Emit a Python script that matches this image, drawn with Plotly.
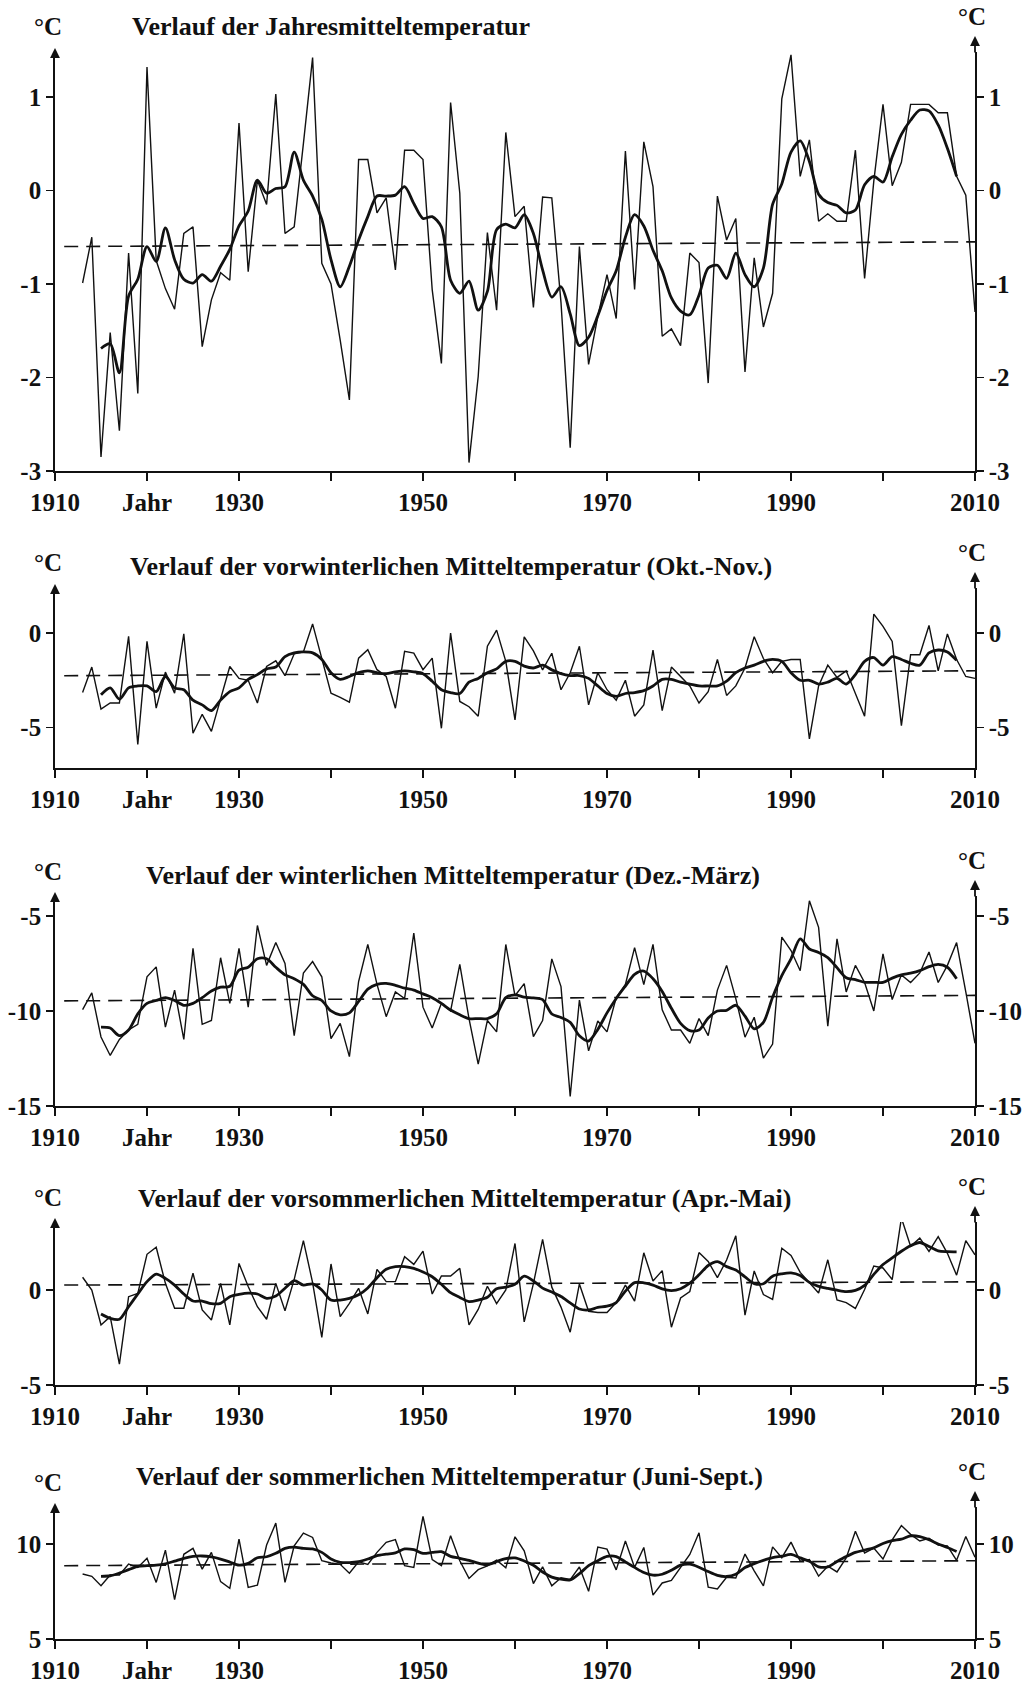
import plotly.graph_objects as go

# ---------------- data ----------------
YEARS = list(range(1913, 2011))          # annual values
SMOOTH_YEARS = list(range(1915, 2009))   # smoothed curve
TREND_YEARS = [1911, 2010]               # dashed linear trend

annual_raw = [
    -0.99, -0.50, -2.85, -1.52, -2.57, -0.67, -2.17, 1.32, -0.75, -1.05,
    -1.27, -0.46, -0.39, -1.67, -1.17, -0.88, -0.96, 0.72, -0.87, 0.11,
    -0.15, 1.03, -0.46, -0.39, 0.50, 1.42, -0.78, -1.00, -1.60, -2.24,
    0.33, 0.33, -0.24, -0.08, -0.85, 0.43, 0.43, 0.33, -1.06, -1.85,
    0.94, -0.03, -2.91, -1.99, -0.45, -1.28, 0.62, -0.28, -0.17, -1.25,
    -0.07, -0.08, -1.20, -2.75, -0.60, -1.86, -1.35, -0.90, -1.37, 0.42,
    -1.06, 0.52, 0.04, -1.56, -1.48, -1.66, -0.67, -0.77, -2.06, -0.06,
    -0.53, -0.30, -1.94, -0.72, -1.46, -1.10, 0.98, 1.45, 0.15, 0.54,
    -0.33, -0.25, -0.33, -0.33, 0.43, -0.94, 0.10, 0.92, 0.05, 0.30,
    0.92, 0.92, 0.92, 0.83, 0.83, 0.15, -0.05, -1.30]
annual_smooth = [
    -1.69, -1.64, -1.95, -1.13, -0.95, -0.60, -0.76, -0.40, -0.74, -0.95,
    -0.99, -0.90, -0.97, -0.81, -0.63, -0.38, -0.22, 0.11, -0.03, 0.02,
    0.04, 0.41, 0.11, -0.06, -0.31, -0.74, -1.03, -0.81, -0.53, -0.28,
    -0.06, -0.06, -0.05, 0.04, -0.14, -0.30, -0.28, -0.39, -0.96, -1.10,
    -0.97, -1.28, -1.08, -0.42, -0.36, -0.40, -0.26, -0.46, -0.85, -1.14,
    -1.03, -1.32, -1.66, -1.57, -1.34, -1.07, -0.86, -0.50, -0.26, -0.38,
    -0.64, -0.86, -1.15, -1.29, -1.33, -1.12, -0.83, -0.80, -0.94, -0.67,
    -0.90, -1.03, -0.83, -0.15, 0.07, 0.41, 0.53, 0.31, -0.04, -0.13,
    -0.16, -0.24, -0.21, 0.06, 0.15, 0.09, 0.36, 0.60, 0.75, 0.86,
    0.85, 0.70, 0.45, 0.15]
annual_trend = [-0.60, -0.55]

autumn_raw = [
    -3.15, -1.80, -4.03, -3.70, -3.70, -0.18, -5.90, -0.44, -3.97, -2.07,
    -3.18, -0.04, -5.30, -4.30, -5.20, -3.50, -1.77, -2.40, -2.50, -3.70,
    -1.77, -1.47, -2.26, -1.10, -1.00, 0.48, -1.41, -3.18, -3.40, -3.66,
    -1.33, -0.88, -1.94, -2.30, -3.98, -0.97, -1.06, -1.94, -1.33, -5.04,
    0.00, -3.62, -3.90, -4.40, -0.70, 0.15, -1.50, -4.60, -0.20, -0.95,
    -1.95, -1.07, -3.00, -2.10, -0.70, -3.80, -2.10, -3.00, -3.55, -2.50,
    -4.40, -3.80, -0.90, -4.10, -1.80, -2.30, -2.80, -3.70, -3.10, -1.40,
    -3.30, -2.80, -1.85, -0.20, -1.35, -2.10, -1.50, -1.40, -1.40, -5.60,
    -2.80, -1.70, -2.35, -2.00, -3.20, -4.40, 1.00, 0.35, -0.45, -4.90,
    -1.15, -1.15, 0.40, -2.00, -0.05, -1.40, -2.30, -2.40]
autumn_smooth = [
    -3.27, -2.90, -3.50, -2.90, -2.80, -2.80, -3.10, -2.30, -2.90, -3.00,
    -3.55, -3.80, -4.10, -3.55, -3.10, -2.90, -2.45, -2.20, -1.90, -1.80,
    -1.25, -1.05, -1.00, -1.05, -1.40, -2.10, -2.45, -2.30, -2.10, -2.00,
    -2.10, -2.15, -2.05, -2.00, -2.05, -2.15, -2.55, -3.00, -3.15, -3.20,
    -2.60, -2.40, -2.10, -1.90, -1.50, -1.50, -1.75, -1.85, -1.70, -1.95,
    -2.15, -2.25, -2.25, -2.40, -2.80, -3.20, -3.35, -3.20, -3.15, -3.05,
    -2.80, -2.45, -2.45, -2.60, -2.70, -2.80, -2.80, -2.80, -2.55, -2.10,
    -1.85, -1.70, -1.50, -1.40, -1.50, -2.10, -2.50, -2.50, -2.70, -2.60,
    -2.40, -2.70, -2.20, -1.50, -1.30, -1.70, -1.25, -1.40, -1.60, -1.70,
    -1.05, -0.90, -1.00, -1.45]
autumn_trend = [-2.26, -2.00]

winter_raw = [
    -9.93, -9.05, -11.37, -12.34, -11.50, -11.00, -10.70, -8.20, -7.68, -10.85,
    -8.90, -11.50, -6.70, -10.70, -10.50, -7.20, -9.60, -6.70, -9.80, -5.50,
    -7.60, -6.40, -7.50, -11.30, -8.00, -7.40, -8.20, -11.45, -10.65, -12.40,
    -8.45, -6.50, -8.60, -10.30, -9.00, -9.35, -5.90, -9.80, -10.90, -9.60,
    -10.00, -7.55, -10.40, -12.80, -10.50, -11.10, -6.50, -9.20, -8.56, -11.35,
    -10.50, -7.26, -8.72, -14.50, -9.43, -12.10, -10.53, -11.10, -9.30, -8.60,
    -6.67, -8.61, -6.50, -9.94, -11.00, -11.00, -11.70, -10.40, -11.30, -8.90,
    -7.60, -9.35, -11.38, -10.33, -12.48, -11.74, -6.11, -6.82, -7.88, -4.20,
    -5.60, -10.80, -6.20, -9.00, -7.60, -8.50, -10.00, -7.00, -9.40, -8.10,
    -8.50, -8.00, -6.90, -8.50, -7.60, -6.40, -9.00, -11.70]
winter_smooth = [
    -10.85, -10.90, -11.30, -11.00, -10.15, -9.60, -9.45, -9.30, -9.45, -9.70,
    -9.60, -9.30, -8.95, -8.75, -8.70, -7.85, -7.70, -7.25, -7.25, -7.70,
    -8.10, -8.30, -8.60, -9.20, -9.45, -10.00, -10.20, -10.10, -9.50, -8.85,
    -8.60, -8.55, -8.65, -8.80, -8.90, -9.10, -9.30, -9.60, -9.95, -10.20,
    -10.40, -10.40, -10.40, -10.15, -9.30, -9.15, -9.27, -9.31, -9.40, -10.16,
    -10.34, -10.60, -11.30, -11.58, -10.97, -10.10, -9.34, -8.69, -8.07, -7.90,
    -8.30, -8.97, -9.86, -10.65, -11.03, -11.00, -10.37, -10.00, -9.97, -9.70,
    -10.27, -10.94, -10.60, -9.28, -8.14, -7.26, -6.21, -6.74, -6.92, -7.19,
    -7.72, -8.25, -8.35, -8.49, -8.49, -8.50, -8.27, -8.10, -8.01, -7.88,
    -7.67, -7.55, -7.70, -8.30]
winter_trend = [-9.47, -9.18]

spring_raw = [
    0.67, 0.00, -1.84, -1.40, -3.90, -0.35, -0.18, 1.88, 2.25, 0.35,
    -0.96, -0.96, 0.88, -1.05, -1.58, 0.35, -1.84, 1.40, 0.18, -0.88,
    -1.54, 0.35, -1.09, 0.56, 2.60, 0.39, -2.49, 1.37, -1.40, -0.70,
    0.09, -1.26, 1.09, 0.44, 0.44, 1.75, 1.35, 2.05, -0.21, 0.74,
    0.74, 1.14, -1.84, -1.02, 0.20, -0.72, 0.00, 2.45, -1.68, 0.34,
    2.67, 0.15, -0.90, -2.22, 0.32, -1.12, -1.18, -1.18, -0.66, 0.26,
    -0.58, 1.96, 0.47, 1.02, -1.96, -0.42, -0.08, 1.97, 1.50, 0.65,
    1.58, 2.85, -1.32, 1.00, -0.24, -0.49, 2.20, 1.82, 0.93, 0.40,
    -0.16, 1.59, -0.52, -0.66, -0.97, 0.03, 1.26, 1.16, 0.55, 3.79,
    2.30, 2.73, 2.03, 2.81, 1.93, 0.78, 2.60, 1.85]
spring_smooth = [
    -1.26, -1.49, -1.54, -0.88, -0.21, 0.44, 0.84, 0.61, 0.26, -0.21,
    -0.58, -0.58, -0.72, -0.70, -0.35, -0.23, -0.16, -0.21, -0.44, -0.32,
    0.09, 0.49, 0.26, 0.32, 0.00, -0.53, -0.53, -0.44, -0.25, 0.11,
    0.65, 1.09, 1.23, 1.23, 1.14, 0.95, 0.70, 0.30, -0.14, -0.39,
    -0.61, -0.53, -0.38, 0.07, 0.15, 0.30, 0.73, 0.48, 0.10, -0.11,
    -0.34, -0.68, -1.00, -1.05, -0.92, -0.85, -0.66, -0.06, 0.39, 0.38,
    0.26, 0.06, -0.03, 0.07, 0.36, 0.80, 1.29, 1.49, 1.23, 1.05,
    0.69, 0.34, 0.33, 0.73, 0.85, 0.90, 0.76, 0.40, 0.19, 0.08,
    -0.01, -0.08, -0.02, 0.24, 0.82, 1.34, 1.69, 2.04, 2.33, 2.50,
    2.29, 2.06, 2.02, 2.01]
spring_trend = [0.26, 0.43]

summer_raw = [
    8.42, 8.30, 7.80, 8.37, 8.37, 8.95, 8.77, 9.25, 7.98, 9.68,
    7.07, 9.46, 9.77, 8.68, 9.56, 8.02, 7.67, 10.26, 7.72, 7.84,
    9.95, 11.10, 7.98, 9.91, 10.58, 10.35, 9.12, 9.00, 8.93, 8.46,
    9.07, 8.93, 9.56, 10.09, 10.23, 8.86, 8.77, 11.46, 9.18, 8.86,
    10.44, 9.12, 8.19, 8.65, 8.85, 9.15, 8.75, 10.38, 9.64, 7.92,
    8.80, 7.80, 8.22, 8.13, 8.79, 7.51, 9.84, 9.73, 8.64, 10.16,
    8.77, 9.82, 7.31, 7.95, 8.09, 8.75, 9.45, 10.59, 7.73, 7.64,
    8.25, 8.21, 9.47, 8.59, 7.80, 9.85, 9.28, 10.10, 9.10, 9.19,
    8.31, 8.83, 8.53, 9.27, 10.67, 9.53, 9.79, 9.21, 10.22, 10.97,
    10.51, 10.16, 10.30, 9.94, 9.90, 9.14, 10.40, 9.30]
summer_smooth = [
    8.30, 8.33, 8.47, 8.65, 8.82, 8.86, 8.89, 8.96, 9.10, 9.25,
    9.35, 9.37, 9.32, 9.21, 9.05, 8.89, 8.98, 9.28, 9.33, 9.51,
    9.77, 9.84, 9.77, 9.74, 9.56, 9.21, 9.04, 9.02, 9.07, 9.21,
    9.39, 9.47, 9.53, 9.74, 9.70, 9.51, 9.56, 9.60, 9.35, 9.25,
    9.14, 9.00, 8.90, 9.08, 9.23, 9.27, 9.11, 8.88, 8.53, 8.26,
    8.15, 8.11, 8.44, 8.86, 9.12, 9.35, 9.34, 9.06, 8.77, 8.50,
    8.36, 8.41, 8.62, 8.89, 8.94, 8.78, 8.55, 8.35, 8.29, 8.41,
    8.76, 8.97, 9.14, 9.28, 9.36, 9.45, 9.27, 9.09, 8.80, 8.80,
    9.08, 9.34, 9.56, 9.68, 9.80, 10.03, 10.18, 10.26, 10.43, 10.39,
    10.23, 10.00, 9.82, 9.61]
summer_trend = [8.86, 9.12]

TITLES = [
    "Verlauf der Jahresmitteltemperatur",
    "Verlauf der vorwinterlichen Mitteltemperatur (Okt.-Nov.)",
    "Verlauf der winterlichen Mitteltemperatur (Dez.-März)",
    "Verlauf der vorsommerlichen Mitteltemperatur (Apr.-Mai)",
    "Verlauf der sommerlichen Mitteltemperatur (Juni-Sept.)",
]
YTICKS = [[1, 0, -1, -2, -3], [0, -5], [-5, -10, -15], [0, -5], [10, 5]]
XTICK_VALS = [1910, 1920, 1930, 1940, 1950, 1960, 1970, 1980, 1990, 2000, 2010]
XTICK_TEXT = ["1910", "Jahr", "1930", "", "1950", "", "1970", "", "1990", "", "2010"]

for arr in (annual_raw, autumn_raw, winter_raw, spring_raw, summer_raw):
    assert len(arr) == len(YEARS), len(arr)
for arr in (annual_smooth, autumn_smooth, winter_smooth, spring_smooth, summer_smooth):
    assert len(arr) == len(SMOOTH_YEARS), len(arr)

series = [
    (annual_raw, annual_smooth, annual_trend),
    (autumn_raw, autumn_smooth, autumn_trend),
    (winter_raw, winter_smooth, winter_trend),
    (spring_raw, spring_smooth, spring_trend),
    (summer_raw, summer_smooth, summer_trend),
]

# ---------------- layout (pixel geometry of the page) ----------------
W, H = 1028, 1684
X0, X1 = 55, 975
# (top px, bottom px, y-range, title-left px, title-y px)
geom = [
    (52, 471, [-3.0, 1.48], 130, 27),
    (588, 768, [-7.14, 2.38], 128, 567),
    (896, 1106, [-15.0, -3.95], 144, 876),
    (1222, 1385, [-5.0, 3.58], 136, 1198),
    (1507, 1639, [5.0, 11.95], 134, 1476),
]

FONT = "Liberation Serif"
BLACK = "#111111"
TICKSIZE = 25
TITLESIZE = 26

fig = go.Figure()
layout = dict(
    width=W, height=H, autosize=False,
    margin=dict(l=0, r=0, t=0, b=0, autoexpand=False),
    paper_bgcolor="white", plot_bgcolor="white",
    showlegend=False,
    font=dict(family=FONT, size=TICKSIZE, color=BLACK, weight="bold"),
)
annotations = []

for i, ((raw, smooth, trend), (top, bot, yr, tx, ty)) in enumerate(zip(series, geom), start=1):
    xa = "x" if i == 1 else f"x{i}"
    ya = "y" if i == 1 else f"y{i}"
    yr_name = f"y{i + 5}"
    dom_y = [1 - bot / H, 1 - top / H]

    fig.add_trace(go.Scatter(x=TREND_YEARS, y=trend, mode="lines", xaxis=xa, yaxis=ya,
                             line=dict(color=BLACK, width=1.6, dash="14px,8px"), hoverinfo="skip"))
    fig.add_trace(go.Scatter(x=YEARS, y=raw, mode="lines", xaxis=xa, yaxis=ya,
                             line=dict(color=BLACK, width=1.4), hoverinfo="skip"))
    fig.add_trace(go.Scatter(x=SMOOTH_YEARS, y=smooth, mode="lines", xaxis=xa, yaxis=ya,
                             line=dict(color=BLACK, width=2.8, shape="spline", smoothing=0.8),
                             hoverinfo="skip"))
    # invisible carrier for right-hand axis
    fig.add_trace(go.Scatter(x=TREND_YEARS, y=trend, mode="lines", xaxis=xa, yaxis=yr_name,
                             line=dict(color="rgba(0,0,0,0)", width=0), hoverinfo="skip"))

    common = dict(showline=True, linecolor=BLACK, linewidth=1.8,
                  ticks="outside", tickwidth=1.6, tickcolor=BLACK,
                  showgrid=False, zeroline=False, fixedrange=True, automargin=False,
                  tickfont=dict(family=FONT, size=TICKSIZE, color=BLACK, weight="bold"))

    layout[f"xaxis{'' if i == 1 else i}"] = dict(
        domain=[X0 / W, X1 / W], anchor=ya, range=[1910, 2010], ticklen=8,
        tickvals=XTICK_VALS, ticktext=XTICK_TEXT, **common)
    layout[f"yaxis{'' if i == 1 else i}"] = dict(
        domain=dom_y, anchor=xa, range=yr, side="left", ticklen=7,
        tickvals=YTICKS[i - 1], ticktext=[str(v) for v in YTICKS[i - 1]], **common)
    layout[f"yaxis{i + 5}"] = dict(
        domain=dom_y, anchor=xa, overlaying=ya, range=yr, side="right", ticklen=7,
        tickvals=YTICKS[i - 1], ticktext=[str(v) for v in YTICKS[i - 1]], **common)

    # arrow heads on top of both vertical axes
    for xpos, extra in ((0, 0), (1, 12)):
        annotations.append(dict(
            xref=f"{xa} domain", yref=f"{ya} domain", x=xpos, y=1, yshift=4 + extra,
            ax=0, ay=6 + extra, axref="pixel", ayref="pixel",
            showarrow=True, arrowhead=2, arrowsize=1.1, arrowwidth=1.8,
            arrowcolor=BLACK, text=""))

    # panel title
    annotations.append(dict(
        xref="paper", yref="paper", x=tx / W, y=1 - ty / H,
        xanchor="left", yanchor="middle", showarrow=False,
        text=TITLES[i - 1],
        font=dict(family=FONT, size=TITLESIZE, color=BLACK, weight="bold")))
    # unit labels
    annotations.append(dict(
        xref="paper", yref="paper", x=48 / W, y=1 - (top - 25) / H,
        xanchor="center", yanchor="middle", showarrow=False, text="°C",
        font=dict(family=FONT, size=TICKSIZE, color=BLACK, weight="bold")))
    annotations.append(dict(
        xref="paper", yref="paper", x=972 / W, y=1 - (top - 36) / H,
        xanchor="center", yanchor="middle", showarrow=False, text="°C",
        font=dict(family=FONT, size=TICKSIZE, color=BLACK, weight="bold")))

layout["annotations"] = annotations
fig.update_layout(**layout)
fig.write_html(
    "out.html",
    config={"displayModeBar": False, "staticPlot": True},
    post_script="document.body.style.margin='0px';document.body.style.padding='0px';"
                "document.body.style.overflow='hidden';",
)
